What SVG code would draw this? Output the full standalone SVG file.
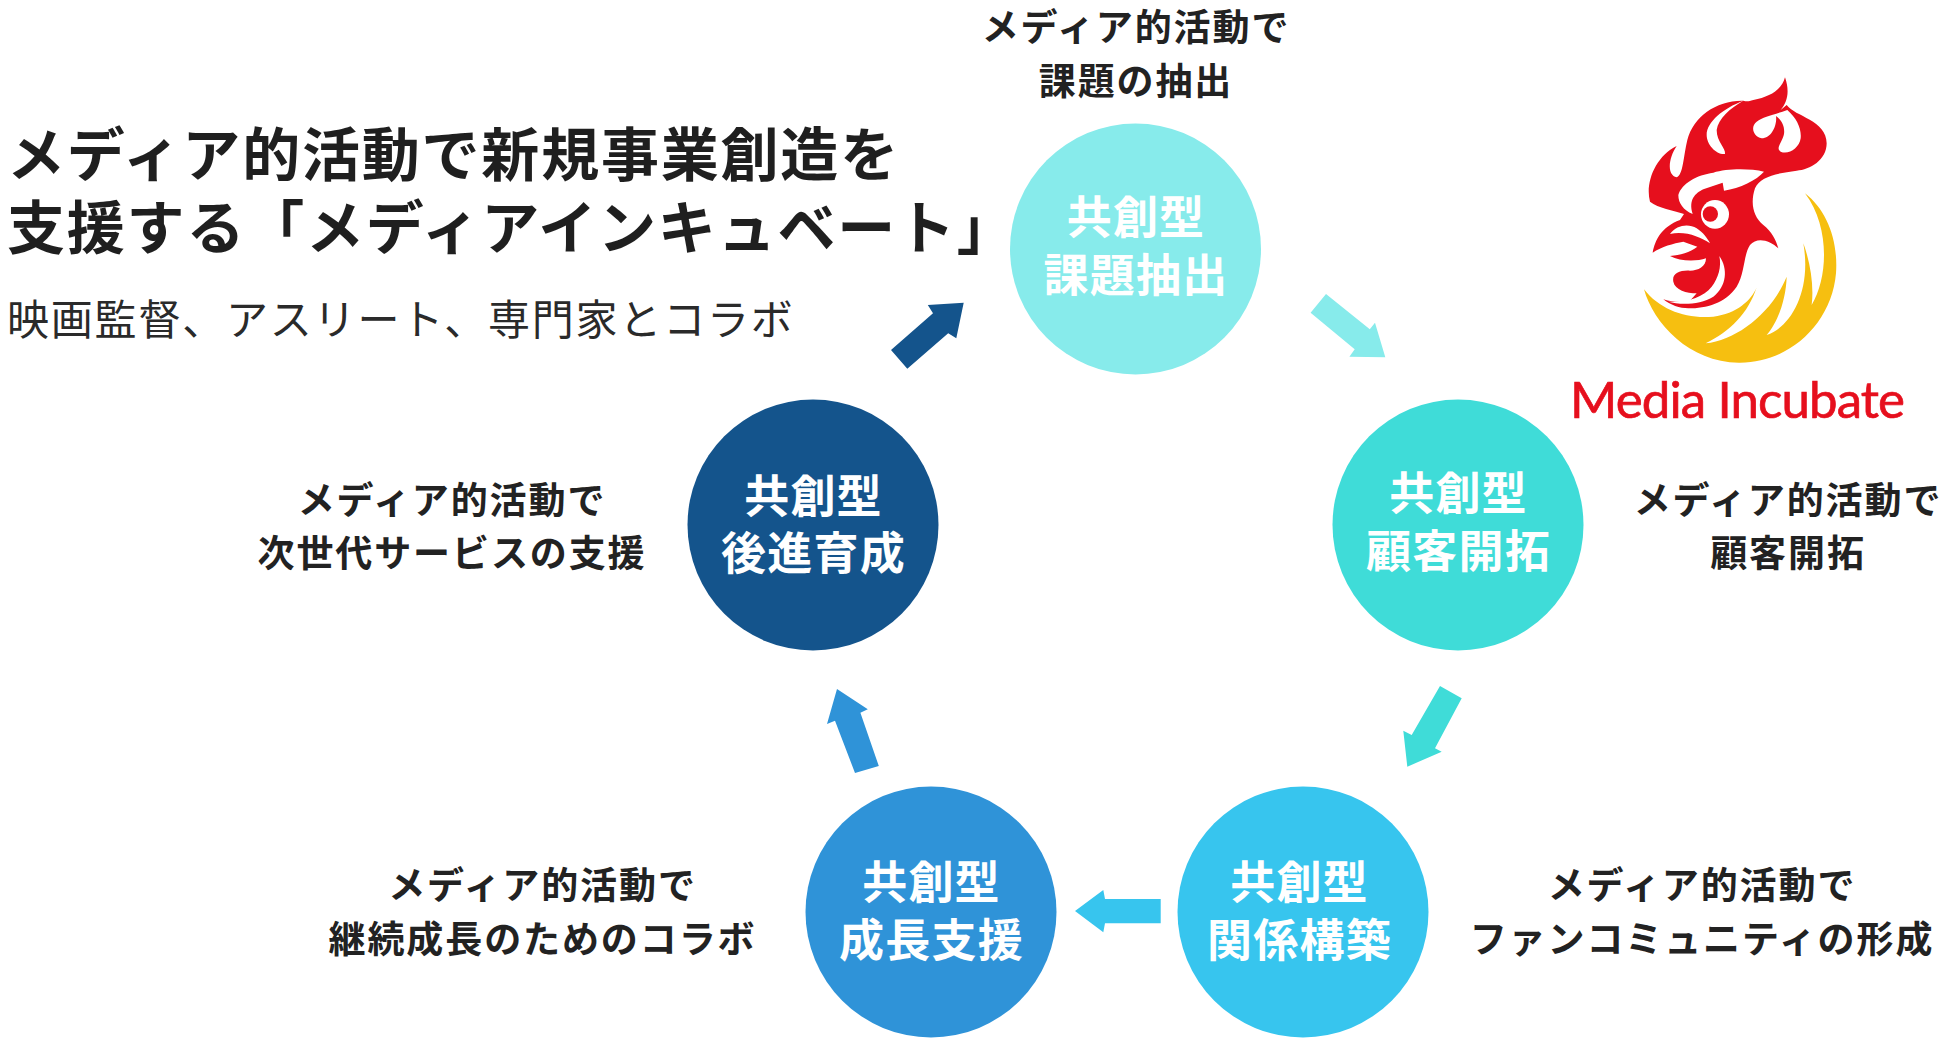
<svg xmlns="http://www.w3.org/2000/svg" width="1950" height="1043" viewBox="0 0 1950 1043">
<style>
text{font-family:"Noto Sans CJK JP","Noto Sans",sans-serif}
.h{font-size:58px;font-weight:700;fill:#1f1f1f;letter-spacing:1.8px}
.s{font-size:42px;font-weight:400;fill:#2a2a2a;letter-spacing:1.8px}
.l{font-size:37px;font-weight:700;fill:#222;letter-spacing:1.9px;text-anchor:middle}
.c{font-size:45px;font-weight:700;fill:#fff;letter-spacing:1.2px;text-anchor:middle}
</style>
<rect width="1950" height="1043" fill="#fff"/>
<g id="title">
<text class="h" x="7" y="176">メディア的活動で新規事業創造を</text>
<text class="h" x="7" y="249">支援する「メディアインキュベート」</text>
<text class="s" x="7" y="335">映画監督、アスリート、専門家とコラボ</text>
</g>
<g id="connectors">
<polygon fill="#87ebeb" points="1326,294 1310.6,312.7 1354.7,349.3 1349.4,356.7 1385.3,357.3 1375,322.7 1369.8,329.3"/>
<polygon fill="#3fdcd8" points="1440,686 1461.7,698.3 1435,748.3 1441.7,751.7 1407.3,766.7 1403.3,730.7 1411.7,735"/>
<polygon fill="#37c5ee" points="1075,911 1103.3,890 1105,899 1160.7,899 1160.7,923.3 1105,923.3 1103.3,932.3"/>
<polygon fill="#2f93d8" points="837,689 867.8,709.3 860.4,712.7 878.8,766 855,773 835,720.7 827,724"/>
<polygon fill="#14548c" points="963.7,302.7 927.8,305 933,313.3 891,350 907.3,368.7 948.2,333.3 956.3,338.3"/>
</g>
<g id="node-top">
<circle cx="1135.5" cy="249" r="125.5" fill="#87ebeb"/>
<text class="c" x="1136" y="234">共創型</text>
<text class="c" x="1136" y="292">課題抽出</text>
<text class="l" x="1136" y="41">メディア的活動で</text>
<text class="l" x="1136" y="95">課題の抽出</text>
</g>
<g id="node-right">
<circle cx="1458" cy="525" r="125.5" fill="#3fdcd8"/>
<text class="c" x="1458.5" y="510">共創型</text>
<text class="c" x="1458.5" y="568">顧客開拓</text>
<text class="l" x="1788" y="514">メディア的活動で</text>
<text class="l" x="1788" y="567">顧客開拓</text>
</g>
<g id="node-bottom-right">
<circle cx="1303" cy="912" r="125.5" fill="#37c5ee"/>
<text class="c" x="1299.5" y="899">共創型</text>
<text class="c" x="1299.5" y="957">関係構築</text>
<text class="l" x="1702" y="899">メディア的活動で</text>
<text class="l" x="1702" y="953">ファンコミュニティの形成</text>
</g>
<g id="node-bottom-left">
<circle cx="931" cy="912" r="125.5" fill="#2f93d8"/>
<text class="c" x="931.5" y="899">共創型</text>
<text class="c" x="931.5" y="957">成長支援</text>
<text class="l" x="542.5" y="899">メディア的活動で</text>
<text class="l" x="542.5" y="953">継続成長のためのコラボ</text>
</g>
<g id="node-left">
<circle cx="813" cy="525" r="125.5" fill="#14548c"/>
<text class="c" x="813.5" y="513">共創型</text>
<text class="c" x="813.5" y="570">後進育成</text>
<text class="l" x="452" y="514">メディア的活動で</text>
<text class="l" x="452" y="567">次世代サービスの支援</text>
</g>
<g id="logo">
<g transform="translate(1540 60) scale(.33333)">
<path fill="#f6bf10" d="M795 400C860 450 895 540 888 640C875 790 750 908 600 908C450 910 340 790 312 688C360 750 440 778 520 770C590 762 635 720 650 682C625 760 570 815 497 850C590 840 695 760 740 650C738 720 712 790 680 825C755 800 815 690 790 550C812 610 822 680 815 735C865 650 870 500 795 400Z"/>
<path fill="#e60f1d" d="M735 52C750 95 742 125 722 150L740 135C765 170 860 180 860 250C860 300 810 330 770 332C710 340 660 350 645 385C630 430 640 470 670 495C695 515 708 540 715 565C690 540 650 530 630 555C610 585 615 640 590 680C555 730 500 745 445 745C420 745 390 735 370 718C400 728 430 728 450 722L470 700C440 700 405 690 400 665C395 640 420 630 450 632C475 632 498 620 498 595C470 605 420 605 390 588C420 585 450 578 472 560L430 545C400 550 365 560 338 578C345 540 365 500 420 480L432 462C400 450 355 445 330 425C315 370 345 290 410 258C385 295 380 345 410 352C430 345 430 290 442 240C460 170 530 120 610 122C620 125 625 125 640 120C690 110 725 90 735 52Z"/>
<path fill="#fff" d="M610 122C550 145 500 185 500 225C500 255 530 285 555 282C558 265 530 245 530 210C535 175 570 145 610 122Z"/>
<path fill="#fff" d="M742 150C770 175 785 205 782 235C778 265 745 285 722 275C705 265 728 245 732 222C735 200 725 180 708 168C712 195 695 235 665 235C640 230 630 200 650 185C670 170 700 165 742 150Z"/>
<path fill="#fff" d="M415 405C425 370 470 345 520 338C560 325 630 325 672 335C650 360 600 385 552 392L548 368L490 388C465 400 445 420 458 462C430 450 415 430 415 405Z"/>
<ellipse cx="525" cy="463" rx="42" ry="43" fill="#fff"/>
<circle cx="511" cy="462" r="23" fill="#e60f1d"/>
<path fill="#fff" d="M390 522C410 495 445 490 470 505C490 518 502 535 510 550C480 530 435 512 390 522Z"/>
<path fill="#fff" d="M538 588C565 625 560 680 520 710C480 735 420 735 385 725C440 728 490 712 515 680C535 655 545 620 538 588Z"/>
</g>
<text x="1570" y="418" textLength="335" lengthAdjust="spacing" fill="#e60f1d" stroke="#e60f1d" stroke-width=".7" style="font-family:Lato,'Noto Sans',sans-serif;font-size:51px;font-weight:400">Media Incubate</text>
</g>
</svg>
